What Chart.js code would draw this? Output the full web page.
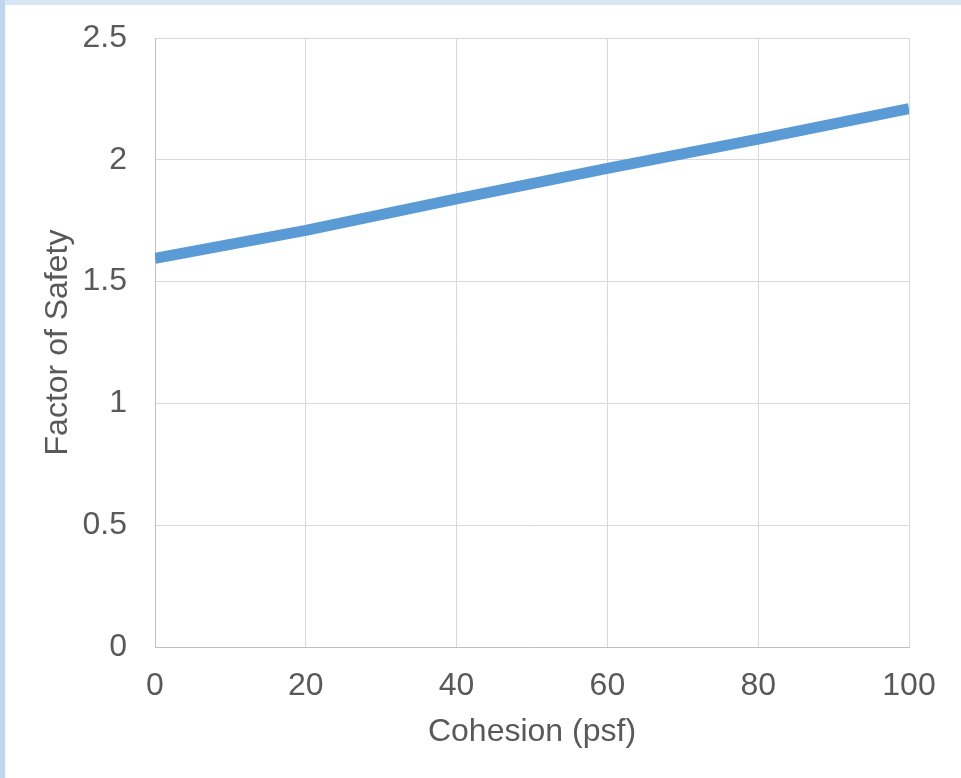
<!DOCTYPE html>
<html>
<head>
<meta charset="utf-8">
<script src="https://cdn.jsdelivr.net/npm/chart.js@4"></script>
<style>
  html, body { margin: 0; padding: 0; background: #ffffff; overflow: hidden; }
  #topbar { position: absolute; left: 0; top: 0; width: 961px; height: 5px; background: #d6e6f4; }
  #leftbar { position: absolute; left: 0; top: 0; width: 5px; height: 778px; background: #c0d8ef; }
  #wrap { position: absolute; left: 5px; top: 5px; width: 956px; height: 773px; }
</style>
</head>
<body>
<div id="topbar"></div>
<div id="leftbar"></div>
<div id="wrap"><canvas id="fosChart" width="956" height="773"></canvas></div>
<script>
// cohesion (psf) vs factor of safety
let cohesion=[0,20,40,60,80,100];
let factorOfSafety=[1.595,1.71,1.84,1.965,2.085,2.21];

let pts=[];
for(let i=0;i<cohesion.length;++i){
    pts.push({x:cohesion[i],y:factorOfSafety[i]});
}

const txt="#595959";
const fnt={family:"'Liberation Sans', Arial, sans-serif",size:32};

new Chart("fosChart",{
    type:"line",
    data:{
        datasets:[{
            data:pts,
            borderColor:"#5b9bd5",
            backgroundColor:"#5b9bd5",
            borderWidth:11,
            pointRadius:0,
            tension:0,
            clip:0
        }]
    },
    options:{
        responsive:false,
        animation:false,
        layout:{padding:{top:33,right:52,bottom:23,left:30}},
        plugins:{legend:{display:false},tooltip:{enabled:false}},
        scales:{
            x:{
                type:"linear",
                min:0,max:100,
                ticks:{stepSize:20,color:txt,font:fnt,padding:20,maxRotation:0},
                grid:{color:"#d9d9d9",drawTicks:false},
                border:{color:"#bfbfbf"},
                title:{display:true,text:"Cohesion (psf)",color:txt,font:fnt},
                afterFit:function(s){s.height=108;s.paddingLeft=0;s.paddingRight=0;}
            },
            y:{
                min:0,max:2.5,
                ticks:{
                    stepSize:0.5,color:txt,font:fnt,padding:28,
                    callback:function(v){return String(+v.toFixed(1));}
                },
                grid:{color:"#d9d9d9",drawTicks:false},
                border:{color:"#bfbfbf"},
                title:{display:true,text:"Factor of Safety",color:txt,font:fnt},
                afterFit:function(s){s.width=120;s.paddingTop=0;s.paddingBottom=0;}
            }
        }
    }
});
</script>
</body>
</html>
